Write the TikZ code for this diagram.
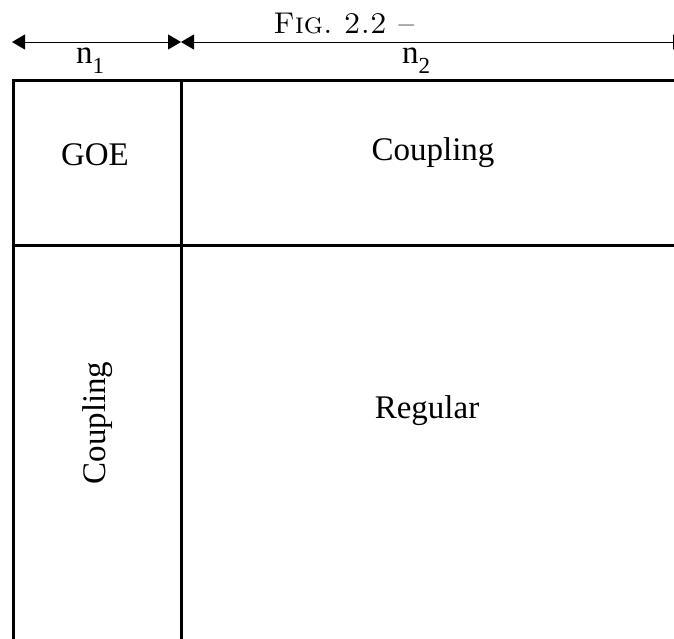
\documentclass[tikz,border=0pt]{standalone}
\usepackage{fontspec}
\newfontfamily\timesfont{Liberation Serif}
\usetikzlibrary{arrows.meta}
\tikzset{
  grid/.style={line width=3pt, line cap=rect},
  dim/.style={line width=1pt, {Triangle[length=13pt,width=15pt]}-{Triangle[length=13pt,width=15pt]}},
  lbl/.style={font=\timesfont\fontsize{33}{33}\selectfont, inner sep=0pt},
  nlbl/.style={font=\timesfont\fontsize{33}{33}\selectfont, inner sep=0pt, anchor=base},
}
\begin{document}
\begin{tikzpicture}[x=1pt,y=-1pt]
\useasboundingbox (0,0) rectangle (674,638);
\clip (0,0) rectangle (674,638);
% dimension arrows
\coordinate (a0) at (12,42);
\coordinate (a1) at (181,42);
\coordinate (a2) at (686,42);
\draw[dim] (a0) -- (a1);
\draw[dim] (a1) -- (a2);
\node[anchor=base, inner sep=0pt, font=\fontsize{30}{30}\selectfont\frenchspacing] (fig) at (344,33) {\textsc{Fig. 2.2 –}};
\node[nlbl] (n1) at (90,63) {n\raisebox{-10pt}{\fontsize{23}{23}\selectfont 1}};
\node[nlbl] (n2) at (416,63) {n\raisebox{-10pt}{\fontsize{23}{23}\selectfont 2}};
% grid
\coordinate (tl) at (13,80);
\coordinate (tr) at (680,80);
\coordinate (bl) at (13,645);
\coordinate (mt) at (181,80);
\coordinate (mb) at (181,645);
\coordinate (hl) at (13,245);
\coordinate (hr) at (680,245);
\draw[grid] (bl) -- (tl) -- (tr);
\draw[grid] (mt) -- (mb);
\draw[grid] (hl) -- (hr);
% labels
\node[lbl] (goe) at (95,155) {GOE};
\node[lbl] (c1) at (433,153) {Coupling};
\node[lbl] (reg) at (427,411) {Regular};
\node[lbl, rotate=90] (c2) at (98,423) {Coupling};
\end{tikzpicture}
\end{document}
